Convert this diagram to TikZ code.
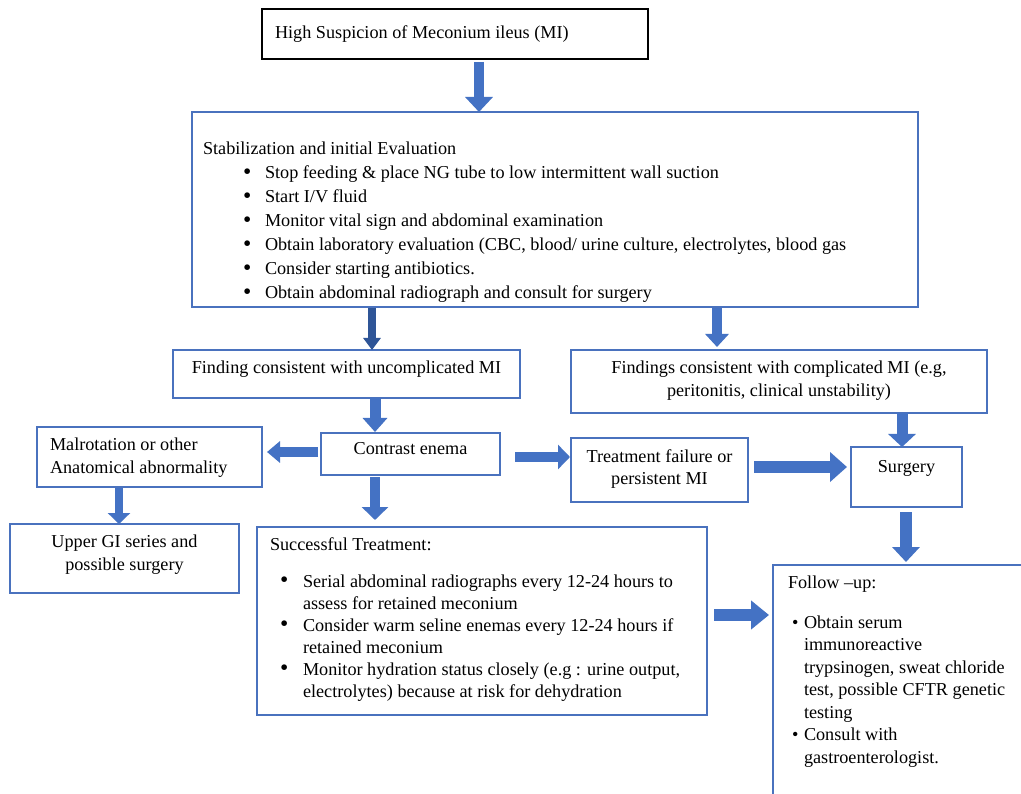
\documentclass[tikz,border=0pt]{standalone}
\usepackage{fontspec}
\setmainfont{Liberation Serif}
\usetikzlibrary{arrows.meta}
\definecolor{boxblue}{HTML}{4A72BE}
\definecolor{arrblue}{HTML}{4472C4}
\definecolor{darkarr}{HTML}{2F5597}
\newcommand{\bul}{\raisebox{-0.6pt}{\scalebox{1.3}{\textbullet}}}
\begin{document}
\begin{tikzpicture}[x=1pt,y=-1pt,
  box/.style={draw=boxblue, line width=1.3pt, inner sep=0pt, outer sep=0pt, fill=white},
  blackbox/.style={draw=black, line width=1.5pt, inner sep=0pt, outer sep=0pt, fill=white},
  txt/.style={inner sep=0pt, outer sep=0pt, font=\fontsize{18.2}{24}\selectfont, align=left},
  ctxt/.style={inner sep=0pt, outer sep=0pt, align=center, anchor=north},
  blk/.style n args={3}{draw=arrblue, line width=#1, -{Triangle[width=#2,length=#3]}}
]
\useasboundingbox (0,0) rectangle (1021,794);
\clip (0,0) rectangle (1021,794);
\fill[white] (0,0) rectangle (1021,794);

% boxes
\node[blackbox, minimum width=386pt, minimum height=50pt] (top) at (455,34) {};
\node[box, minimum width=726pt, minimum height=195pt] (stab) at (555,209.5) {};
\node[box, minimum width=347pt, minimum height=48pt] (unc) at (346.5,374) {};
\node[box, minimum width=416pt, minimum height=63pt] (compl) at (779,381.5) {};
\node[box, minimum width=179pt, minimum height=42pt] (contrast) at (410.5,454) {};
\node[box, minimum width=225pt, minimum height=60pt] (malrot) at (149.5,457) {};
\node[box, minimum width=177pt, minimum height=64pt] (treat) at (659.5,470) {};
\node[box, minimum width=111pt, minimum height=60pt] (surgery) at (906.5,477) {};
\node[box, minimum width=229pt, minimum height=69pt] (upper) at (124.5,558.5) {};
\node[box, minimum width=450pt, minimum height=188pt] (success) at (482,621) {};
\node[box, minimum width=300pt, minimum height=280pt, anchor=north west] (follow) at (773,565) {};

% texts
\node[txt, anchor=north west] (topT) at (275,22.2) {\strut High Suspicion of Meconium ileus (MI)};
\node[txt, anchor=north west] (stabT) at (203,138.2) {\strut Stabilization and initial Evaluation\\
\hspace*{40pt}\makebox[22pt][l]{\bul}\strut Stop feeding \& place NG tube to low intermittent wall suction\\
\hspace*{40pt}\makebox[22pt][l]{\bul}\strut Start I/V fluid\\
\hspace*{40pt}\makebox[22pt][l]{\bul}\strut Monitor vital sign and abdominal examination\\
\hspace*{40pt}\makebox[22pt][l]{\bul}\strut Obtain laboratory evaluation (CBC, blood/ urine culture, electrolytes, blood gas\\
\hspace*{40pt}\makebox[22pt][l]{\bul}\strut Consider starting antibiotics.\\
\hspace*{40pt}\makebox[22pt][l]{\bul}\strut Obtain abdominal radiograph and consult for surgery};
\node[txt, ctxt, font=\fontsize{18.2}{24}\selectfont] (uncT) at (346.5,357.2) {\strut Finding consistent with uncomplicated MI};
\node[txt, ctxt, font=\fontsize{18.2}{23}\selectfont] (complT) at (779,357.9) {\strut Findings consistent with complicated MI (e.g,\\ \strut peritonitis, clinical unstability)};
\node[txt, ctxt, font=\fontsize{18.2}{24}\selectfont] (contrastT) at (410.5,438.2) {\strut Contrast enema};
\node[txt, anchor=north west, font=\fontsize{18.2}{22}\selectfont] (malrotT) at (50,435.6) {\strut Malrotation or other\\ \strut Anatomical abnormality};
\node[txt, ctxt, font=\fontsize{18.2}{22}\selectfont] (treatT) at (659.5,446.6) {\strut Treatment failure or\\ \strut persistent MI};
\node[txt, ctxt, font=\fontsize{18.2}{24}\selectfont] (surgeryT) at (906.5,455.2) {\strut Surgery};
\node[txt, ctxt, font=\fontsize{18.2}{23}\selectfont] (upperT) at (124.5,530.9) {\strut Upper GI series and\\ \strut possible surgery};
\node[txt, anchor=north west] (successT) at (270,533.2) {\strut Successful Treatment:};
\node[txt, anchor=north west, font=\fontsize{18.2}{22}\selectfont] (successB) at (280,571.6) {%
\makebox[23pt][l]{\bul}\strut Serial abdominal radiographs every 12-24 hours to\\
\hspace*{23pt}\strut assess for retained meconium\\
\makebox[23pt][l]{\bul}\strut Consider warm seline enemas every 12-24 hours if\\
\hspace*{23pt}\strut retained meconium\\
\makebox[23pt][l]{\bul}\strut Monitor hydration status closely (e.g : urine output,\\
\hspace*{23pt}\strut electrolytes) because at risk for dehydration};
\node[txt, anchor=north west] (followT) at (788,571.2) {\strut Follow –up:};
\node[txt, anchor=north west, font=\fontsize{18.2}{22.5}\selectfont] (followB) at (792,612.25) {%
\makebox[12pt][l]{\textbullet}\strut Obtain serum\\
\hspace*{12pt}\strut immunoreactive\\
\hspace*{12pt}\strut trypsinogen, sweat chloride\\
\hspace*{12pt}\strut test, possible CFTR genetic\\
\hspace*{12pt}\strut testing\\
\makebox[12pt][l]{\textbullet}\strut Consult with\\
\hspace*{12pt}\strut gastroenterologist.};

% arrow guide coordinates
\coordinate (xa1) at (479,0);
\coordinate (xa2) at (372,0);
\coordinate (xa3) at (717,0);
\coordinate (xa4) at (375,0);
\coordinate (xa8) at (902,0);
\coordinate (xa9) at (119,0);
\coordinate (xa10) at (375,0);
\coordinate (xa12) at (906,0);
\coordinate (ya5) at (0,452);
\coordinate (ya6) at (0,457);
\coordinate (ya7) at (0,467);
\coordinate (ya11) at (0,615);

% arrows
\draw[blk={10pt}{27pt}{15pt}, shorten <=3pt] (top.south -| xa1) -- (stab.north -| xa1);
\draw[blk={8pt}{17pt}{12pt}, draw=darkarr, shorten <=1pt] (stab.south -| xa2) -- (unc.north -| xa2);
\draw[blk={10pt}{23pt}{13pt}, shorten <=1pt, shorten >=3pt] (stab.south -| xa3) -- (compl.north -| xa3);
\draw[blk={11pt}{24pt}{14pt}, shorten >=1pt] (unc.south -| xa4) -- (contrast.north -| xa4);
\draw[blk={10pt}{21pt}{13pt}, shorten <=3pt, shorten >=5pt] (contrast.west |- ya5) -- (malrot.east |- ya5);
\draw[blk={10pt}{24pt}{12pt}, shorten <=15pt, shorten >=1pt] (contrast.east |- ya6) -- (treat.west |- ya6);
\draw[blk={11pt}{29pt}{17pt}, shorten <=6pt, shorten >=4pt] (treat.east |- ya7) -- (surgery.west |- ya7);
\draw[blk={11pt}{27pt}{13pt}] (compl.south -| xa8) -- (surgery.north -| xa8);
\draw[blk={8pt}{22pt}{11pt}, shorten <=1pt] (malrot.south -| xa9) -- (upper.north -| xa9);
\draw[blk={10pt}{26pt}{13pt}, shorten <=2pt, shorten >=7pt] (contrast.south -| xa10) -- (success.north -| xa10);
\draw[blk={12pt}{28pt}{18pt}, shorten <=7pt, shorten >=4pt] (success.east |- ya11) -- (follow.west |- ya11);
\draw[blk={12pt}{27pt}{15pt}, shorten <=5pt, shorten >=3pt] (surgery.south -| xa12) -- (follow.north -| xa12);
\end{tikzpicture}
\end{document}
